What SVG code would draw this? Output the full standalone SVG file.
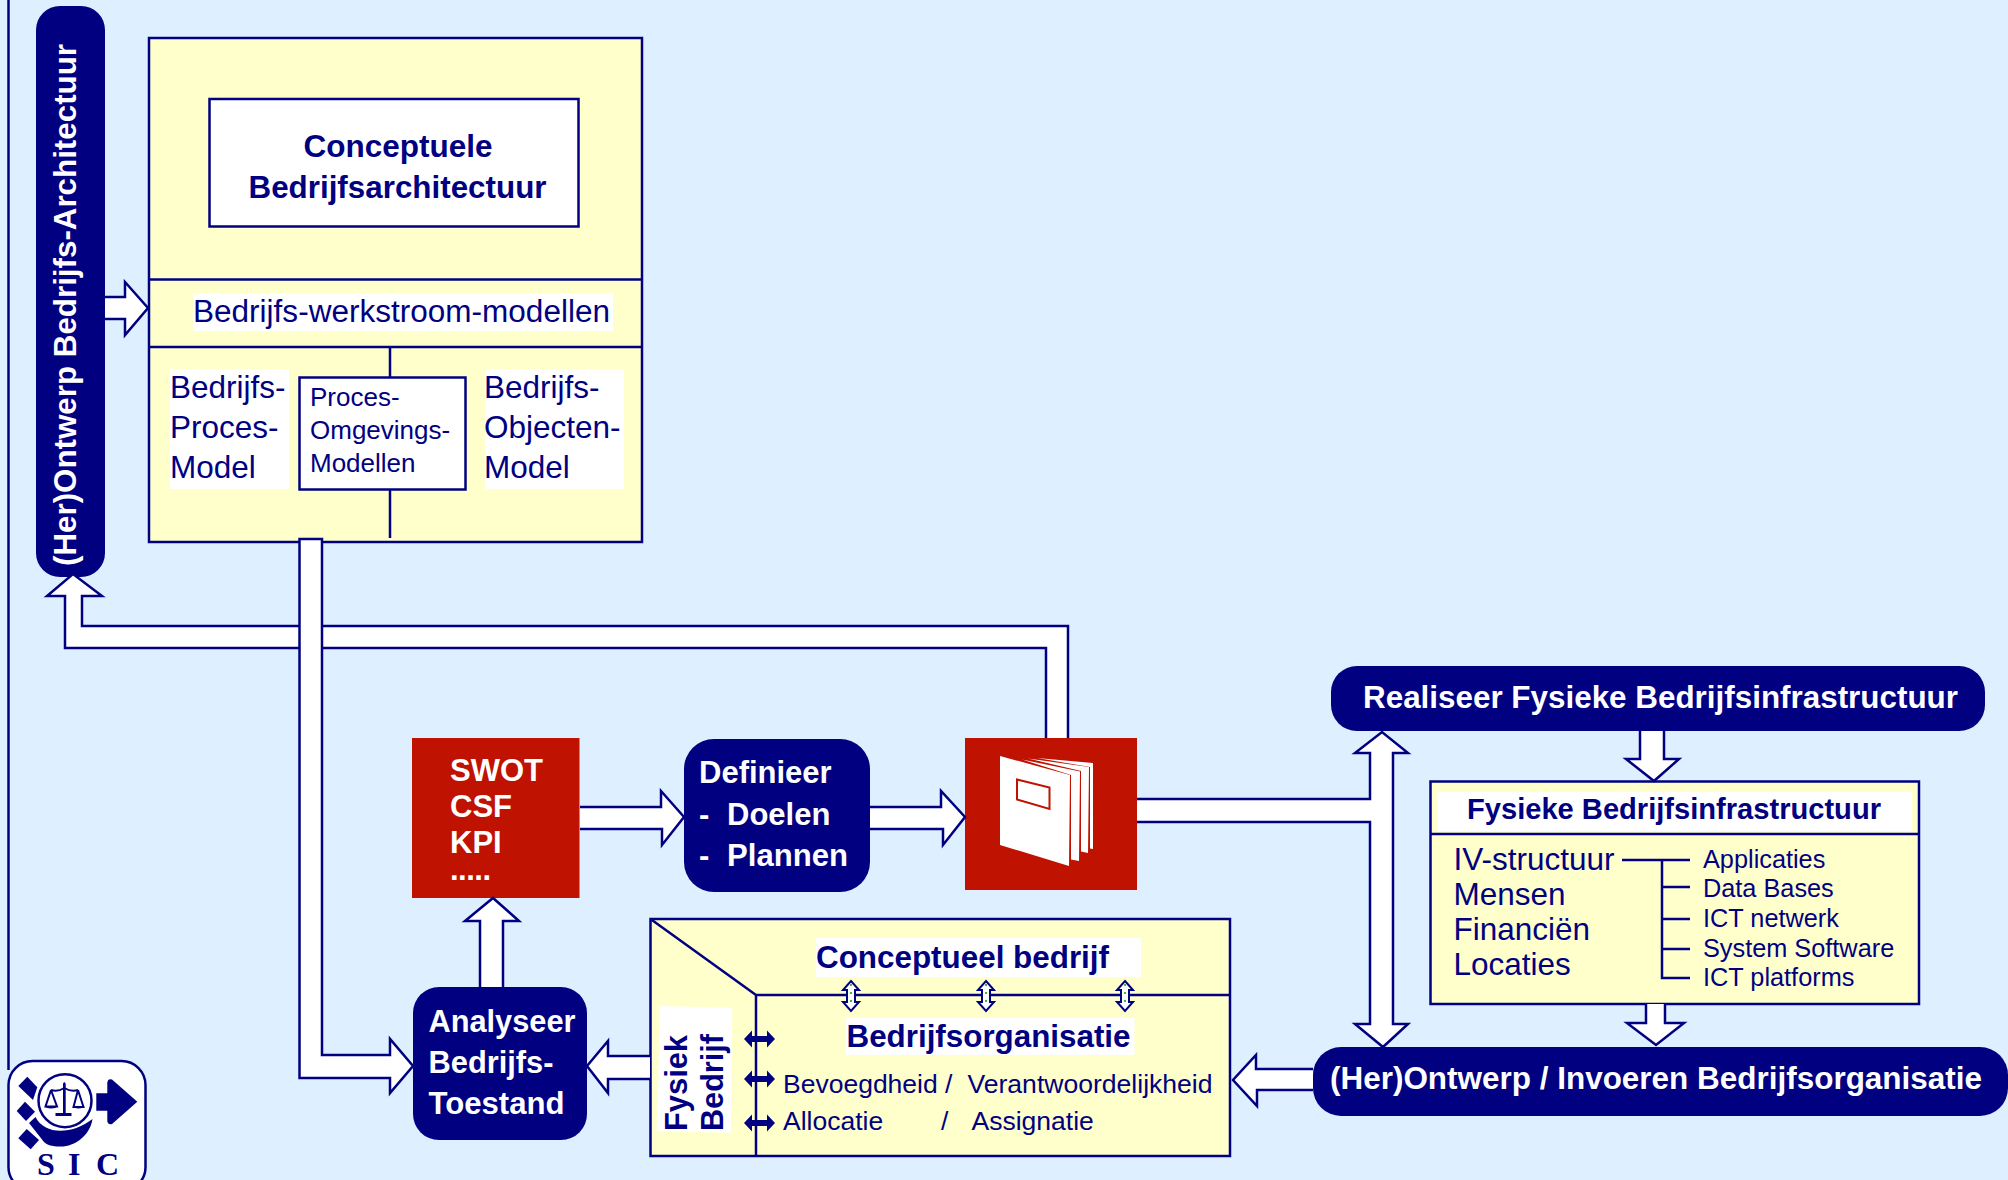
<svg xmlns="http://www.w3.org/2000/svg" width="2008" height="1180" viewBox="0 0 2008 1180">
<style>
text{font-family:"Liberation Sans",Arial,sans-serif;fill:#000080}
.b{font-weight:bold}
.w{fill:#fff}
.box{fill:#ffffcc;stroke:#000080;stroke-width:2.500}
.wb{fill:#fff;stroke:#000080;stroke-width:2.500}
.ln{fill:none;stroke:#000080;stroke-width:2.500}
.nv{fill:#000080}
.rd{fill:#bf1200}
.wt{fill:#fff}
.ar{fill:#fff;stroke:#000080;stroke-width:2.500;stroke-linejoin:miter}
.dot{stroke:#00a000;stroke-width:1.5;stroke-dasharray:2 6;fill:none}
</style>
<rect width="2008" height="1180" fill="#def0ff"/>
<path class="ln" d="M8.500,0V1070"/>

<g id="node-architectuur-pill">
<rect class="nv" x="36" y="6" width="69" height="571" rx="24"/>
<text class="b w" transform="translate(76,566) rotate(-90)" font-size="32" textLength="522" lengthAdjust="spacingAndGlyphs">(Her)Ontwerp Bedrijfs-Architectuur</text>
</g>

<g id="node-conceptuele-architectuur">
<rect class="box" x="149" y="38" width="493" height="504"/>
<rect class="wb" x="209.500" y="99" width="369" height="127.500"/>
<text class="b" x="398" y="157" font-size="31.500" text-anchor="middle">Conceptuele</text>
<text class="b" x="397.500" y="197.500" font-size="31.500" text-anchor="middle" textLength="298" lengthAdjust="spacingAndGlyphs">Bedrijfsarchitectuur</text>
<path class="ln" d="M149,279.500H642M149,347H642M390,347V377M390,490V538"/>
<rect class="wt" x="193" y="293" width="420" height="38"/>
<text x="193" y="322" font-size="31" textLength="417" lengthAdjust="spacingAndGlyphs">Bedrijfs-werkstroom-modellen</text>
<rect class="wt" x="170" y="369" width="119" height="120"/>
<text x="170" y="398" font-size="31.500">Bedrijfs-</text>
<text x="170" y="438" font-size="31.500">Proces-</text>
<text x="170" y="477.500" font-size="31.500">Model</text>
<rect class="wt" x="485" y="369" width="139" height="120"/>
<text x="484" y="398" font-size="31.500">Bedrijfs-</text>
<text x="484" y="438" font-size="31.500">Objecten-</text>
<text x="484" y="477.500" font-size="31.500">Model</text>
<rect class="wb" x="299.500" y="377.500" width="166" height="112"/>
<text x="310" y="406" font-size="26">Proces-</text>
<text x="310" y="439" font-size="26">Omgevings-</text>
<text x="310" y="472" font-size="26">Modellen</text>
</g>

<g id="node-swot">
<rect class="rd" x="412" y="738" width="167.500" height="160"/>
<text class="b w" x="450" y="781" font-size="31">SWOT</text>
<text class="b w" x="450" y="817" font-size="31">CSF</text>
<text class="b w" x="450" y="853" font-size="31">KPI</text>
<text class="b w" x="450" y="880" font-size="31" textLength="41" lengthAdjust="spacing">.....</text>
</g>

<g id="node-definieer">
<rect class="nv" x="684" y="739" width="186" height="153" rx="30"/>
<text class="b w" x="699" y="783" font-size="31">Definieer</text>
<text class="b w" x="699" y="824.500" font-size="31">-</text>
<text class="b w" x="727" y="824.500" font-size="31">Doelen</text>
<text class="b w" x="699" y="865.500" font-size="31">-</text>
<text class="b w" x="727" y="865.500" font-size="31" textLength="121" lengthAdjust="spacingAndGlyphs">Plannen</text>
</g>

<g id="node-rapport">
<rect class="rd" x="965" y="738" width="172" height="152"/>
<polygon class="wt" points="1037,758 1093,763 1093,849 1090,848.500 1090,767"/>
<polygon class="wt" points="1028,758.500 1089,767 1088,853 1081,851.500 1081,771"/>
<polygon class="wt" points="1022,759.500 1080,771.500 1079,861 1071,859.500 1071,775"/>
<polygon class="wt" points="1000,756 1070,775 1069,866 1000,845"/>
<polygon points="1017,779.500 1049.500,787.500 1049.500,809 1017,799.500" fill="none" stroke="#bf1200" stroke-width="2"/>
</g>

<g id="node-analyseer">
<rect class="nv" x="413" y="987" width="174" height="153" rx="26"/>
<text class="b w" x="428.500" y="1032" font-size="31" textLength="147" lengthAdjust="spacingAndGlyphs">Analyseer</text>
<text class="b w" x="428.500" y="1073" font-size="31" textLength="125" lengthAdjust="spacingAndGlyphs">Bedrijfs-</text>
<text class="b w" x="428.500" y="1114" font-size="31" textLength="136" lengthAdjust="spacingAndGlyphs">Toestand</text>
</g>

<g id="node-bedrijf">
<rect class="box" x="650.500" y="919" width="579.500" height="237"/>
<path class="ln" d="M650.500,919L756,995H1230M756,995V1156"/>
<rect class="wt" x="816" y="938" width="325" height="39"/>
<text class="b" x="816" y="968" font-size="31" textLength="293" lengthAdjust="spacingAndGlyphs">Conceptueel bedrijf</text>
<rect class="wt" x="846" y="1018" width="288.500" height="37"/>
<text class="b" x="846.500" y="1047" font-size="31" textLength="284" lengthAdjust="spacingAndGlyphs">Bedrijfsorganisatie</text>
<polygon class="wt" points="660,1006 732,1007.700 731,1132.700 657,1131"/>
<text class="b" transform="translate(687,1131) rotate(-90)" font-size="31" textLength="96" lengthAdjust="spacingAndGlyphs">Fysiek</text>
<text class="b" transform="translate(723,1131) rotate(-90)" font-size="31" textLength="97" lengthAdjust="spacingAndGlyphs">Bedrijf</text>
<text x="783" y="1092.500" font-size="26.500">Bevoegdheid /</text>
<text x="967.500" y="1092.500" font-size="26.500" textLength="245" lengthAdjust="spacingAndGlyphs">Verantwoordelijkheid</text>
<text x="783" y="1130" font-size="26.500">Allocatie</text>
<text x="941" y="1130" font-size="26.500">/</text>
<text x="971.500" y="1130" font-size="26.500">Assignatie</text>
</g>

<g id="node-realiseer">
<rect class="nv" x="1331" y="666" width="654" height="65" rx="26"/>
<text class="b w" x="1363" y="708" font-size="31" textLength="595" lengthAdjust="spacingAndGlyphs">Realiseer Fysieke Bedrijfsinfrastructuur</text>
</g>

<g id="node-infrastructuur">
<rect class="box" x="1430.500" y="781.500" width="488.500" height="222.500"/>
<path class="ln" d="M1430.500,834H1919"/>
<rect class="wt" x="1437" y="792" width="475" height="39"/>
<text class="b" x="1467" y="819" font-size="30" textLength="414" lengthAdjust="spacingAndGlyphs">Fysieke Bedrijfsinfrastructuur</text>
<text x="1453.500" y="870" font-size="31.500" textLength="161" lengthAdjust="spacingAndGlyphs">IV-structuur</text>
<text x="1453.500" y="905" font-size="31.500">Mensen</text>
<text x="1453.500" y="940" font-size="31.500">Financiën</text>
<text x="1453.500" y="975" font-size="31.500">Locaties</text>
<path class="ln" d="M1622,860H1690M1662,860V978H1690M1662,887H1690M1662,919H1690M1662,949H1690"/>
<text x="1703" y="868" font-size="25.300">Applicaties</text>
<text x="1703" y="897" font-size="25.300">Data Bases</text>
<text x="1703" y="927" font-size="25.300">ICT netwerk</text>
<text x="1703" y="957" font-size="25.300">System Software</text>
<text x="1703" y="986" font-size="25.300">ICT platforms</text>
</g>

<g id="node-invoeren">
<rect class="nv" x="1313" y="1047" width="695" height="69" rx="28"/>
<text class="b w" x="1330" y="1089" font-size="31" textLength="652" lengthAdjust="spacingAndGlyphs">(Her)Ontwerp / Invoeren Bedrijfsorganisatie</text>
</g>

<g id="node-logo">
<rect x="8.500" y="1061" width="137" height="130" rx="24" fill="#fff" stroke="#000080" stroke-width="2.500"/>
<polygon class="nv" points="18.300,1086 27.300,1076.700 37.300,1087.300 33,1100"/>
<polygon class="nv" points="16.700,1111 25,1101.700 35,1111.700 26,1121"/>
<polygon class="nv" points="18.300,1138.300 26.700,1129 39,1140 30.700,1149.300"/>
<path class="nv" d="M29,1123L35.500,1117C44,1134 70,1136 92.500,1119C90,1136 74,1147 60,1146.500C52,1146.500 47,1145 44,1142Z"/>
<circle cx="65" cy="1100.700" r="26.500" fill="none" stroke="#000080" stroke-width="2.500"/>
<path class="nv" d="M63,1083.500L64.300,1082L65.700,1083.500V1113H71.500V1116H55.500V1113H63Z"/>
<path class="ln" style="stroke-width:2" d="M51,1090Q58,1092 64.300,1088Q71,1092 78,1090M51,1090L45.500,1106.500H57L51,1090M78,1090L73.500,1107H83.500L78,1090"/>
<path class="nv" d="M45,1106H57.500Q56,1108.500 51,1108.500T45,1106ZM73,1106H84Q83,1108.500 78.500,1108.500T73,1106Z"/>
<path class="nv" d="M96.300,1093.300H107.300V1082.500Q108,1078 112,1079.500L137.300,1101.700L112,1124Q108,1125 107.300,1121V1110.700H96.300Z"/>
<text x="37 68 96" y="1175" font-size="32" font-weight="bold" style="font-family:'Liberation Serif',serif">SIC</text>
</g>

<g id="connectors">
<path class="ar" d="M105,297H125V282L148,308L125,335V319H105"/>
<path class="ar" d="M1068,738V626H82V596H102L73,574L47,596H65V648H1046V738"/>
<polygon class="ar" points="299.500,539 322,539 322,1055 390,1055 390,1039 413,1066 390,1093 390,1078 299.500,1078"/>
<path class="ar" d="M480,987V921H465L493,898L519,921H503V987"/>
<path class="ar" d="M650,1056H608V1041L587,1066L608,1093V1079H650"/>
<path class="ar" d="M580,807H661V791L684,817L662,845V829H580"/>
<path class="ar" d="M870,807H941V791L965,817L943,845V829H870"/>
<path class="ar" d="M1137,799H1370V753H1355L1382,732L1408,753H1393V1024H1408L1383,1047L1355,1024H1370V822H1137"/>
<path class="ar" d="M1640,731V759H1626L1654,781L1679,759H1664V731"/>
<path class="ar" d="M1646,1004V1023H1627L1656,1045L1684,1023H1665V1004"/>
<path class="ar" d="M1313,1069H1256V1055L1233,1080L1257,1106V1090H1313"/>
<g id="link-arrows-vertical">
<polygon class="ar" style="stroke-width:2" points="851,981 859,990 855,990 855,1002 859,1002 851,1011 843,1002 847,1002 847,990 843,990"/>
<path class="dot" d="M851,984V1008"/>
<polygon class="ar" style="stroke-width:2" points="986,981 994,990 990,990 990,1002 994,1002 986,1011 978,1002 982,1002 982,990 978,990"/>
<path class="dot" d="M986,984V1008"/>
<polygon class="ar" style="stroke-width:2" points="1125,981 1133,990 1129,990 1129,1002 1133,1002 1125,1011 1117,1002 1121,1002 1121,990 1117,990"/>
<path class="dot" d="M1125,984V1008"/>
</g>
<g id="link-arrows-horizontal" class="nv">
<polygon points="744,1039 752,1030.500 752,1036 767,1036 767,1030.500 775,1039 767,1047.500 767,1042 752,1042 752,1047.500"/>
<polygon points="744,1079 752,1070.500 752,1076 767,1076 767,1070.500 775,1079 767,1087.500 767,1082 752,1082 752,1087.500"/>
<polygon points="744,1123 752,1114.500 752,1120 767,1120 767,1114.500 775,1123 767,1131.500 767,1126 752,1126 752,1131.500"/>
</g>
</g>
</svg>
